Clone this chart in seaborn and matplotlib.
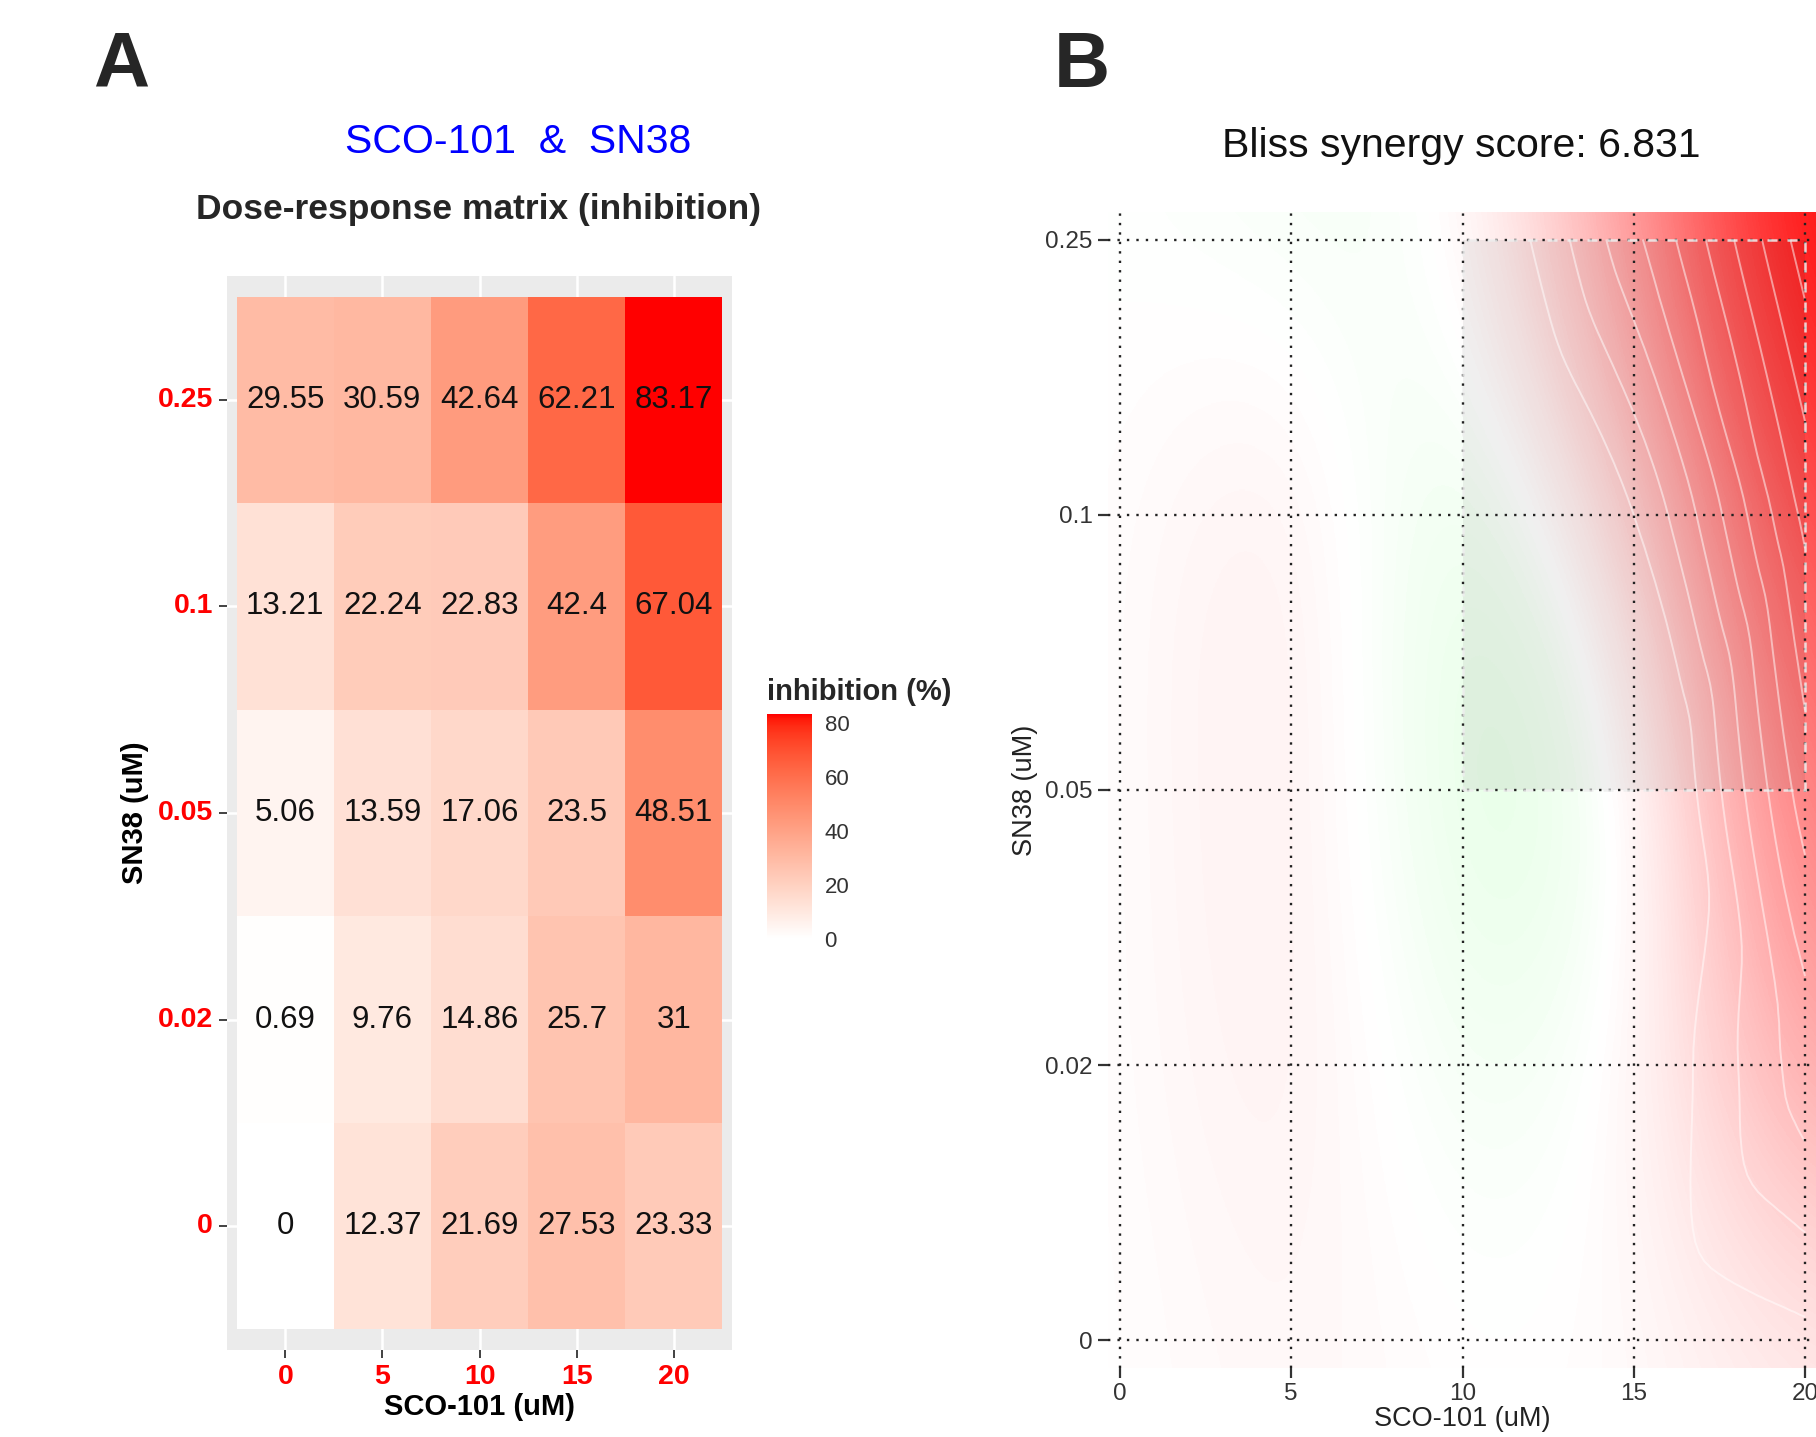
import numpy as np
import pandas as pd
import matplotlib
matplotlib.use("Agg")
import matplotlib.pyplot as plt
import matplotlib.tri as mtri
from matplotlib.colors import ListedColormap, LinearSegmentedColormap
from matplotlib.patches import Rectangle
import seaborn as sns

# ---------------- data ----------------
sco101_labels = ["0", "5", "10", "15", "20"]
sn38_labels_top_down = ["0.25", "0.1", "0.05", "0.02", "0"]
inhibition = [
    [29.55, 30.59, 42.64, 62.21, 83.17],
    [13.21, 22.24, 22.83, 42.4, 67.04],
    [5.06, 13.59, 17.06, 23.5, 48.51],
    [0.69, 9.76, 14.86, 25.7, 31],
    [0, 12.37, 21.69, 27.53, 23.33],
]
sco101_conc = [0, 5, 10, 15, 20]
sn38_labels_bottom_up = ["0", "0.02", "0.05", "0.1", "0.25"]
bliss_synergy = [  # rows: SN38 0 -> 0.25 ; cols: SCO-101 0 -> 20
    [0, 1.5, 0.0, 0.5, 3.0],
    [0, 3.0, -2.5, 0.0, 14.0],
    [0, 3.5, -5.0, -3.5, 22.0],
    [0, 3.5, -5.0, 4.0, 29.0],
    [0, -1.5, -1.0, 15.0, 38.0],
]
bliss_score = 6.831
msa_sco101 = [10, 20]          # most synergistic area (SCO-101 range)
msa_sn38 = ["0.05", "0.25"]    # most synergistic area (SN38 range)
contour_levels = [4, 8, 12, 16, 20, 24, 28, 32, 36]

# ---------------- style ----------------
sns.set_theme(style="white")
plt.rcParams["font.family"] = ["Liberation Sans", "DejaVu Sans"]

W, H = 1816, 1437
fig = plt.figure(figsize=(W / 100, H / 100), dpi=100)


def fr(x0, y0, x1, y1):
    return [x0 / W, 1 - y1 / H, (x1 - x0) / W, (y1 - y0) / H]


# white -> red gradient interpolated in CIE Lab (like ggplot2)
Mx = np.array([[0.4124, 0.3576, 0.1805], [0.2126, 0.7152, 0.0722], [0.0193, 0.1192, 0.9505]])
wref = Mx @ np.ones(3)


def to_lin(c):
    c = np.asarray(c, float)
    return np.where(c <= 0.04045, c / 12.92, ((c + 0.055) / 1.055) ** 2.4)


def from_lin(c):
    c = np.clip(c, 0, None)
    return np.where(c <= 0.0031308, 12.92 * c, 1.055 * np.power(c, 1 / 2.4) - 0.055)


def rgb2lab(rgb):
    xyz = Mx @ to_lin(rgb) / wref
    d = 6 / 29
    f = np.where(xyz > d ** 3, np.cbrt(xyz), xyz / (3 * d * d) + 4 / 29)
    return np.array([116 * f[1] - 16, 500 * (f[0] - f[1]), 200 * (f[1] - f[2])])


def lab2rgb(lab):
    L, a, b = lab
    fy = (L + 16) / 116
    f = np.array([fy + a / 500, fy, fy - b / 200])
    d = 6 / 29
    xyz = np.where(f > d, f ** 3, 3 * d * d * (f - 4 / 29)) * wref
    return np.clip(from_lin(np.linalg.solve(Mx, xyz)), 0, 1)


lw_, lr_ = rgb2lab([1, 1, 1]), rgb2lab([1, 0, 0])
cmapA = ListedColormap([lab2rgb(lw_ + (lr_ - lw_) * t) for t in np.linspace(0, 1, 256)])

# ---------------- panel A ----------------
axA = fig.add_axes(fr(227, 276, 732, 1350))
caxA = fig.add_axes(fr(767, 714, 812, 939))
df = pd.DataFrame(inhibition, index=sn38_labels_top_down, columns=sco101_labels)
vmaxA = float(np.max(inhibition))
sns.heatmap(df, ax=axA, cmap=cmapA, vmin=0, vmax=vmaxA, annot=True, fmt="g",
            annot_kws=dict(color="#111111", fontsize=22.5), cbar_ax=caxA, linewidths=0)
axA.set_xlim(-0.1, 5.1)
axA.set_ylim(5.1, -0.1)
axA.set_facecolor("#EBEBEB")
axA.grid(True, color="white", lw=1.8)
axA.set_axisbelow(True)
for s in axA.spines.values():
    s.set_visible(False)
axA.tick_params(bottom=True, left=True, length=6, width=1.3, color="#333333", pad=4)
axA.set_xticklabels(sco101_labels, rotation=0, color="red", fontweight="bold", fontsize=20.5)
axA.set_yticklabels(sn38_labels_top_down, rotation=0, color="red", fontweight="bold", fontsize=20.5)
axA.set_xlabel("SCO-101 (uM)", fontsize=21, fontweight="bold", color="black")
axA.set_ylabel("SN38 (uM)", fontsize=21, fontweight="bold", color="black")
axA.xaxis.set_label_coords(0.5, -0.053)
axA.xaxis.label.set_va("center")
axA.yaxis.set_label_coords(-0.182, 0.5)
axA.yaxis.label.set_va("center")

cb = axA.collections[0].colorbar
cb.outline.set_visible(False)
cb.set_ticks([0, 20, 40, 60, 80])
caxA.tick_params(direction="in", color="white", length=7, width=1.2, left=True, right=True,
                 labelsize=16, labelcolor="#333333", pad=9)
fig.text(767 / W, 1 - 692 / H, "inhibition (%)", fontsize=21, fontweight="bold", ha="left", va="center")

fig.text(93 / W, 1 - 87 / H, "A", fontsize=56, fontweight="bold", ha="left", va="baseline")
fig.text(518 / W, 1 - 153 / H, "SCO-101  &  SN38", fontsize=29.5, color="#0000FF", ha="center", va="baseline")
fig.text(478 / W, 1 - 219 / H, "Dose-response matrix (inhibition)", fontsize=25.5, fontweight="bold",
         ha="center", va="baseline")

# ---------------- panel B ----------------
axB = fig.add_axes(fr(1108, 212, 1817, 1368))
Z = np.array(bliss_synergy, float)
zmax = float(np.abs(Z).max())
cmapB = LinearSegmentedColormap.from_list("gwr", ["#00ff00", "#ffffff", "#ff0000"])
xs = np.array(sco101_conc, float)
dx = xs[1] - xs[0]
ny = len(sn38_labels_bottom_up)
axB.imshow(Z, cmap=cmapB, vmin=-zmax, vmax=zmax, origin="lower",
           extent=[xs[0] - dx / 2, xs[-1] + dx / 2, -0.5, ny - 0.5],
           interpolation="bicubic", aspect="auto", zorder=0)

# smooth contour lines of the synergy surface
gx, gy = np.meshgrid(xs, np.arange(ny, dtype=float))
scale = dx
tri = mtri.Triangulation(gx.ravel(), gy.ravel() * scale)
interp = mtri.CubicTriInterpolator(tri, Z.ravel(), kind="geom")
ref_tri, ref_z = mtri.UniformTriRefiner(tri).refine_field(Z.ravel(), triinterpolator=interp, subdiv=4)
tri2 = mtri.Triangulation(ref_tri.x, ref_tri.y / scale, ref_tri.triangles)
axB.tricontour(tri2, ref_z, levels=contour_levels, colors="white", linewidths=1.4, alpha=0.5, zorder=2)

# most synergistic area
yi0 = sn38_labels_bottom_up.index(msa_sn38[0])
yi1 = sn38_labels_bottom_up.index(msa_sn38[1])
axB.add_patch(Rectangle((msa_sco101[0], yi0), msa_sco101[1] - msa_sco101[0], yi1 - yi0,
                        facecolor="black", alpha=0.06, edgecolor="none", zorder=1))
axB.add_patch(Rectangle((msa_sco101[0], yi0), msa_sco101[1] - msa_sco101[0], yi1 - yi0,
                        fill=False, edgecolor="#eeeeee", lw=1.8, ls=(0, (4, 4)), alpha=0.85, zorder=4))

axB.set_xlim(-0.35, 20.35)
axB.set_ylim(-0.1, ny - 1 + 0.1)
axB.set_xticks(sco101_conc)
axB.set_xticklabels(sco101_labels)
axB.set_yticks(range(ny))
axB.set_yticklabels(sn38_labels_bottom_up)
axB.grid(True, color="#222222", ls=(0, (1, 3)), lw=1.7)
axB.set_axisbelow(False)
for s in axB.spines.values():
    s.set_visible(False)
axB.tick_params(bottom=True, left=True, length=7, width=1.6, color="#333333", pad=4,
                labelsize=17.5, labelcolor="#333333")
axB.set_xlabel("SCO-101 (uM)", fontsize=19.5, color="#222222")
axB.set_ylabel("SN38 (uM)", fontsize=19.5, color="#222222")
axB.xaxis.set_label_coords(0.5, -0.044)
axB.xaxis.label.set_va("center")
axB.yaxis.set_label_coords(-0.117, 0.5)
axB.yaxis.label.set_va("center")

fig.text(1054 / W, 1 - 87 / H, "B", fontsize=56, fontweight="bold", ha="left", va="baseline")
fig.text(1461 / W, 1 - 157 / H, f"Bliss synergy score: {bliss_score}", fontsize=29.5,
         ha="center", va="baseline", color="#111111")

fig.savefig("out.png", dpi=100)
